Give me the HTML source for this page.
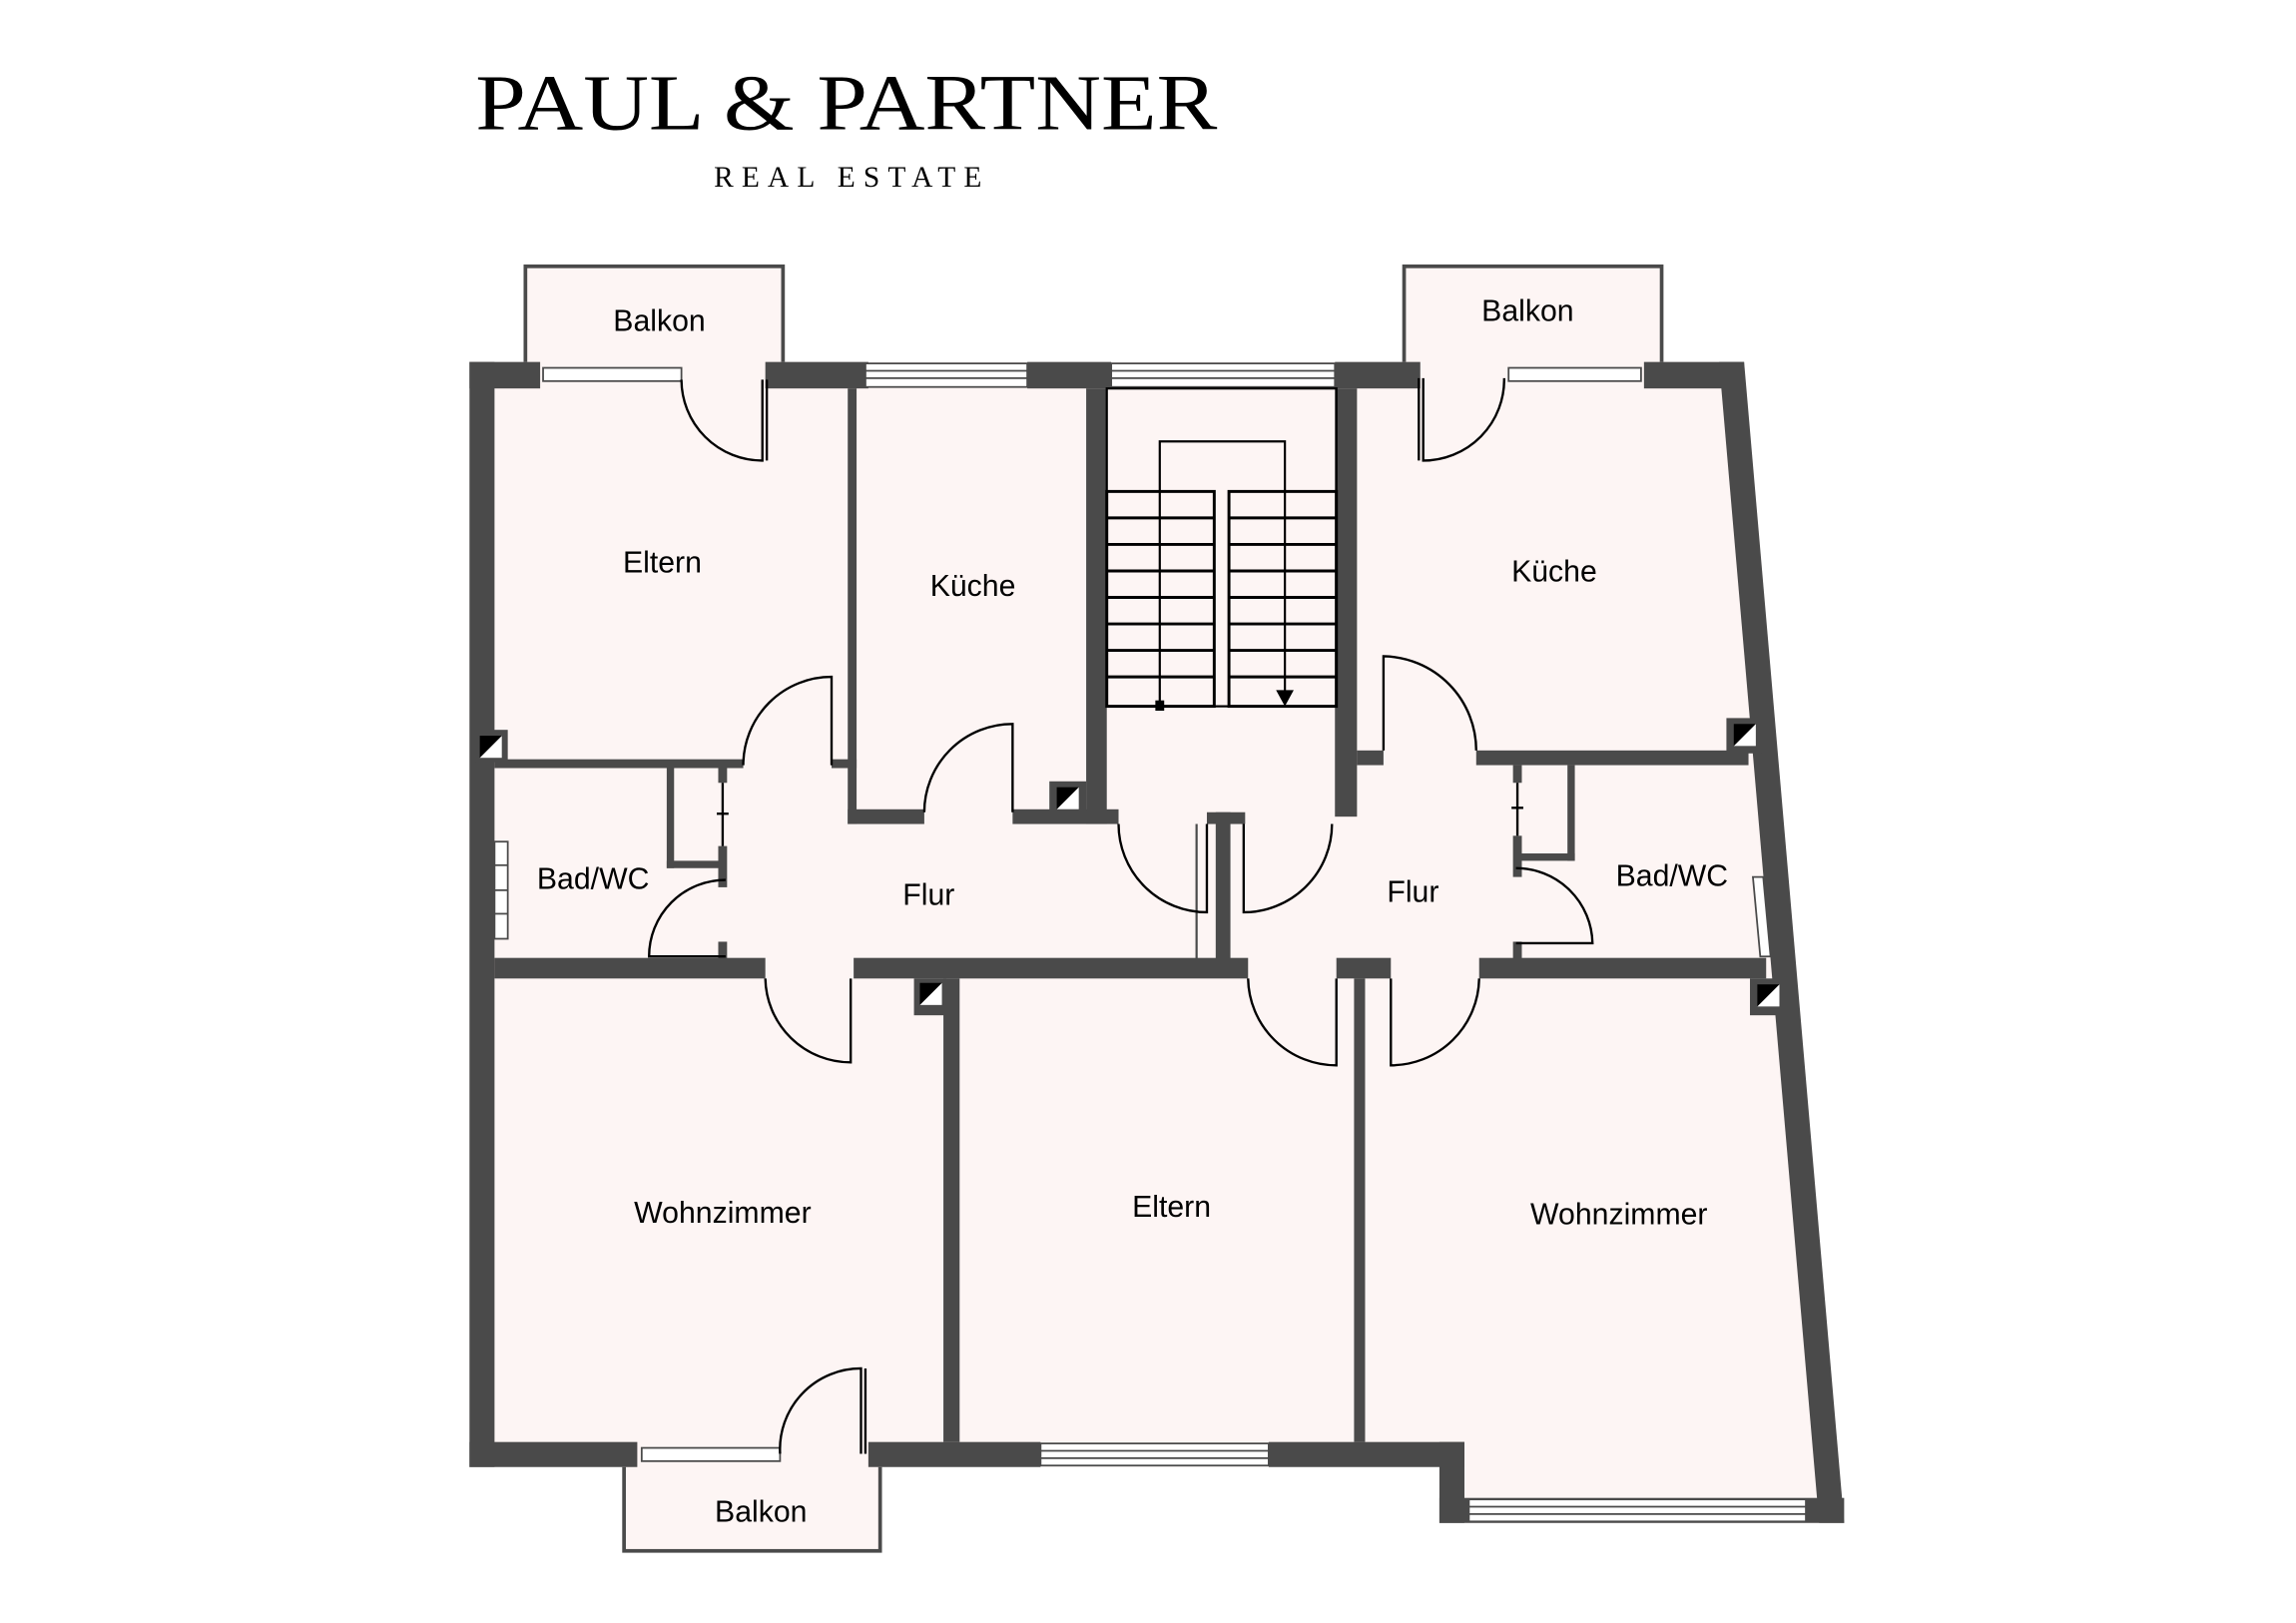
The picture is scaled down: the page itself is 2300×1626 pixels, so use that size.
<!DOCTYPE html>
<html><head><meta charset="utf-8"><style>
html,body{margin:0;padding:0;background:#fff;}
svg{display:block;}
text{font-family:"Liberation Sans",Arial,sans-serif;fill:#000;}
.lg{font-family:"Liberation Serif",serif;}
</style></head><body>
<svg width="2300" height="1626" viewBox="0 0 1560 1103" preserveAspectRatio="none" xmlns="http://www.w3.org/2000/svg">
<rect width="1560" height="1103" fill="#fff"/>
<text class="lg" x="575" y="88" font-size="54" text-anchor="middle" textLength="504" lengthAdjust="spacingAndGlyphs">PAUL &amp; PARTNER</text>
<text class="lg" x="576" y="127" font-size="20" text-anchor="middle" textLength="182" lengthAdjust="spacing">REAL ESTATE</text>

<rect x="357" y="181" width="175" height="75" fill="#fdf5f4" stroke="#4a4a4a" stroke-width="2.5"/>
<rect x="954" y="181" width="175" height="75" fill="#fdf5f4" stroke="#4a4a4a" stroke-width="2.5"/>
<rect x="424" y="990" width="174" height="64" fill="#fdf5f4" stroke="#4a4a4a" stroke-width="2.5"/>

<polygon points="319,246 1185,246 1253,1035 978,1035 978,997 319,997" fill="#fdf5f4"/>

<g fill="#4a4a4a">
<rect x="319" y="246" width="17" height="751"/>
<rect x="319" y="246" width="48" height="18"/>
<rect x="520" y="246" width="70" height="18"/>
<rect x="698" y="246" width="57" height="18"/>
<rect x="907" y="246" width="58" height="18"/>
<rect x="1117" y="246" width="68" height="18"/>
<polygon points="1168,246 1185,246 1253,1035 1236,1035"/>
<rect x="319" y="980" width="114" height="17"/>
<rect x="590" y="980" width="117" height="17"/>
<rect x="862" y="980" width="133" height="17"/>
<rect x="978" y="980" width="17" height="55"/>
<rect x="978" y="1018" width="275" height="17"/>
<rect x="576" y="264" width="6" height="296"/>
<rect x="565" y="516" width="17" height="6"/>
<rect x="336" y="516" width="169" height="6"/>
<rect x="576" y="550" width="52" height="10"/>
<rect x="688" y="550" width="72" height="10"/>
<rect x="738" y="264" width="14" height="296"/>
<rect x="907" y="264" width="15" height="291"/>
<rect x="922" y="510" width="18" height="10"/>
<rect x="1003" y="510" width="185" height="10"/>
<rect x="820" y="552" width="26" height="8"/>
<rect x="826" y="552" width="10" height="108"/>
<rect x="336" y="651" width="184" height="14"/>
<rect x="580" y="651" width="268" height="14"/>
<rect x="908" y="651" width="37" height="14"/>
<rect x="1005" y="651" width="195" height="14"/>
<rect x="641" y="665" width="11" height="315"/>
<rect x="920" y="665" width="7" height="315"/>
<rect x="453" y="520" width="5" height="70"/>
<rect x="453" y="585" width="40" height="5"/>
<rect x="488" y="520" width="6" height="12"/>
<rect x="488" y="575" width="6" height="28"/>
<rect x="488" y="640" width="6" height="12"/>
<rect x="1065" y="520" width="5" height="65"/>
<rect x="1030" y="580" width="40" height="5"/>
<rect x="1028" y="520" width="6" height="12"/>
<rect x="1028" y="568" width="6" height="28"/>
<rect x="1028" y="640" width="6" height="12"/>
</g>

<g fill="#fff" stroke="#4a4a4a" stroke-width="1.2">
<rect x="369" y="250" width="94" height="9"/>
<rect x="1025" y="250" width="90" height="9"/>
<rect x="588" y="247" width="110" height="16"/><line x1="588" y1="252" x2="698" y2="252"/><line x1="588" y1="257" x2="698" y2="257"/>
<rect x="755" y="247" width="152" height="16"/><line x1="755" y1="252" x2="907" y2="252"/><line x1="755" y1="257" x2="907" y2="257"/>
<rect x="436" y="984" width="94" height="9"/>
<rect x="707" y="981" width="155" height="15"/><line x1="707" y1="986" x2="862" y2="986"/><line x1="707" y1="991" x2="862" y2="991"/>
<rect x="998" y="1019" width="229" height="15"/><line x1="998" y1="1024" x2="1227" y2="1024"/><line x1="998" y1="1029" x2="1227" y2="1029"/>
<rect x="336" y="572" width="9" height="66"/><line x1="336" y1="588" x2="345" y2="588"/><line x1="336" y1="605" x2="345" y2="605"/><line x1="336" y1="621" x2="345" y2="621"/>
<polygon points="1191,596 1198,596 1203,650 1196,650"/>
</g>
<line x1="813" y1="560" x2="813" y2="655" stroke="#4a4a4a" stroke-width="1.5"/>
<line x1="927" y1="665" x2="927" y2="980" stroke="#4a4a4a" stroke-width="1"/>

<g fill="none" stroke="#000" stroke-width="1.6">
<path d="M518,258 V313 A55,55 0 0 1 463,258"/>
<line x1="521" y1="258" x2="521" y2="313"/>
<path d="M565,520 V460 A60,60 0 0 0 505,520"/>
<path d="M688,552 V492 A60,60 0 0 0 628,552"/>
<path d="M820,560 V620 A60,60 0 0 1 760,560"/>
<path d="M845,560 V620 A60,60 0 0 0 905,560"/>
<path d="M493,650 H441 A52,52 0 0 1 493,598"/>
<path d="M578,665 V722 A58,58 0 0 1 520,665"/>
<path d="M908,665 V724 A60,60 0 0 1 848,665"/>
<path d="M945,665 V724 A60,60 0 0 0 1005,665"/>
<path d="M940,510 V446 A64,64 0 0 1 1003,510"/>
<path d="M1030,641 H1082 A52,52 0 0 0 1030,590"/>
<path d="M967,257 V313 A55,55 0 0 0 1022,257"/>
<line x1="964" y1="257" x2="964" y2="313"/>
<path d="M585,988 V930 A55,55 0 0 0 530,988"/>
<line x1="588" y1="930" x2="588" y2="988"/>
<line x1="491" y1="532" x2="491" y2="575"/><line x1="487" y1="553" x2="495" y2="553"/>
<line x1="1031" y1="532" x2="1031" y2="568"/><line x1="1027" y1="549" x2="1035" y2="549"/>
</g>

<g fill="none" stroke="#000" stroke-width="2">
<rect x="752" y="264" width="156" height="216" stroke-width="1.5"/>
<rect x="752" y="334" width="73" height="146"/>
<rect x="835" y="334" width="73" height="146"/>
<path d="M752,352H825M752,370H825M752,388H825M752,406H825M752,424H825M752,442H825M752,460H825"/>
<path d="M835,352H908M835,370H908M835,388H908M835,406H908M835,424H908M835,442H908M835,460H908"/>
<path d="M788,480 V300 H873 V470" stroke-width="1.5"/>
</g>
<rect x="785" y="476" width="6" height="7" fill="#000"/>
<polygon points="867,469 879,469 873,480" fill="#000"/>

<g>
<rect x="323" y="496" width="22" height="22" fill="#4a4a4a"/><rect x="326" y="500" width="15" height="15" fill="#000"/><polygon points="341,500 341,515 326,515" fill="#fff"/>
<rect x="713" y="531" width="25" height="22" fill="#4a4a4a"/><rect x="718" y="535" width="15" height="15" fill="#000"/><polygon points="733,535 733,550 718,550" fill="#fff"/>
<rect x="621" y="665" width="22" height="25" fill="#4a4a4a"/><rect x="625" y="668" width="15" height="15" fill="#000"/><polygon points="640,668 640,683 625,683" fill="#fff"/>
<rect x="1173" y="488" width="24" height="24" fill="#4a4a4a"/><rect x="1178" y="492" width="15" height="15" fill="#000"/><polygon points="1193,492 1193,507 1178,507" fill="#fff"/>
<rect x="1189" y="665" width="24" height="25" fill="#4a4a4a"/><rect x="1194" y="669" width="15" height="15" fill="#000"/><polygon points="1209,669 1209,684 1194,684" fill="#fff"/>
</g>

<g font-size="20.5" text-anchor="middle">
<text x="448" y="225">Balkon</text>
<text x="1038" y="218">Balkon</text>
<text x="450" y="389">Eltern</text>
<text x="661" y="405">Küche</text>
<text x="1056" y="395">Küche</text>
<text x="403" y="604">Bad/WC</text>
<text x="631" y="615">Flur</text>
<text x="960" y="613">Flur</text>
<text x="1136" y="602">Bad/WC</text>
<text x="491" y="831">Wohnzimmer</text>
<text x="796" y="827">Eltern</text>
<text x="1100" y="832">Wohnzimmer</text>
<text x="517" y="1034">Balkon</text>
</g>
</svg>
</body></html>
